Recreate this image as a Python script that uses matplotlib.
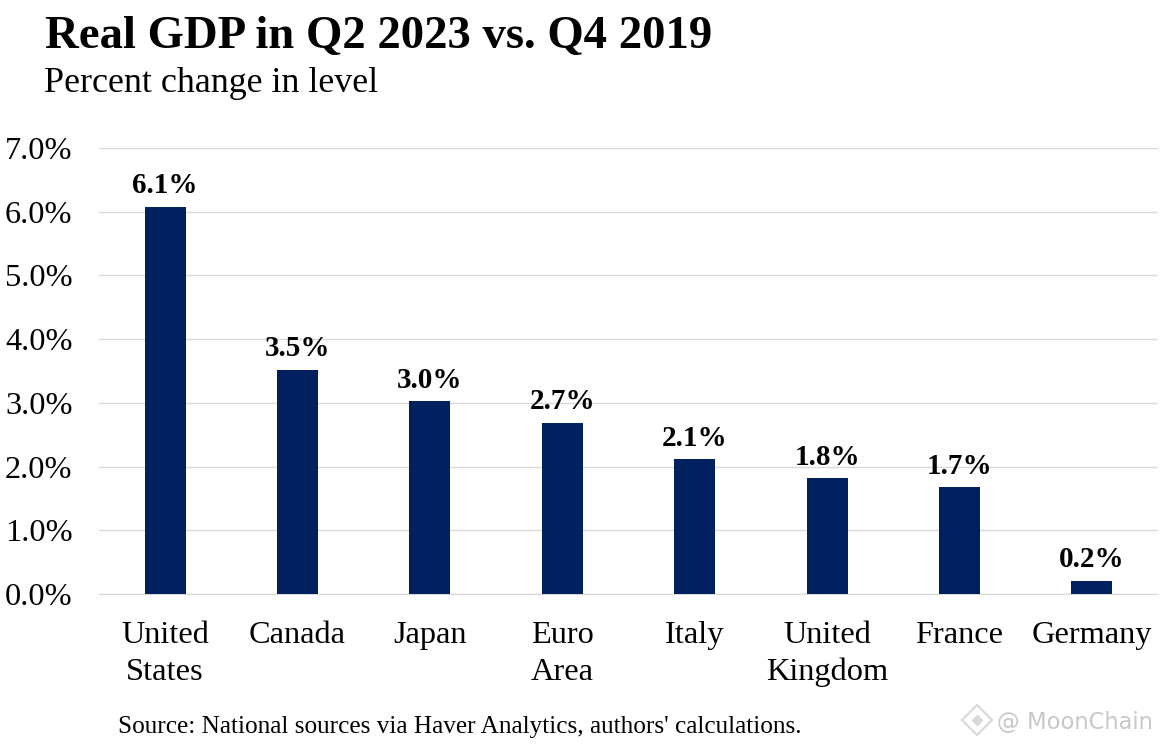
import matplotlib
matplotlib.use('Agg')
import matplotlib.pyplot as plt
from matplotlib.lines import Line2D

countries = ['United\nStates', 'Canada', 'Japan', 'Euro\nArea', 'Italy', 'United\nKingdom', 'France', 'Germany']
gdp_change = [6.08, 3.52, 3.03, 2.69, 2.12, 1.82, 1.68, 0.21]
bar_labels = ['6.1%', '3.5%', '3.0%', '2.7%', '2.1%', '1.8%', '1.7%', '0.2%']
y_ticks = [0, 1, 2, 3, 4, 5, 6, 7]

plt.rcParams['font.family'] = ['Liberation Serif', 'DejaVu Serif']

fig = plt.figure(figsize=(11.6, 7.46), dpi=100)
ax = fig.add_axes([99 / 1160, 1 - 594 / 746, (1158 - 99) / 1160, (594 - 148) / 746])

positions = range(len(countries))
ax.bar(positions, gdp_change, width=0.31, color='#002060', zorder=3)

for x, y, label in zip(positions, gdp_change, bar_labels):
    ax.text(x, y + 0.115, label, ha='center', va='bottom', fontsize=21, fontweight='bold', color='black')

ax.set_xlim(-0.5, 7.5)
ax.set_ylim(0, 7)
ax.set_yticks(y_ticks)
ax.set_yticklabels(['%.1f%%' % t for t in y_ticks], fontsize=23.3)
ax.set_xticks(list(positions))
ax.set_xticklabels(countries, fontsize=23.3, linespacing=1.34)
ax.tick_params(axis='both', length=0)
ax.tick_params(axis='x', pad=19.5)
ax.tick_params(axis='y', pad=19)
ax.grid(axis='y', color='#d9d9d9', linewidth=1, zorder=0)
for side in ['top', 'right', 'left']:
    ax.spines[side].set_visible(False)
ax.spines['bottom'].set_color('#d9d9d9')

fig.text(45 / 1160, 1 - 48 / 746, 'Real GDP in Q2 2023 vs. Q4 2019', fontsize=33.7, fontweight='bold', va='baseline')
fig.text(44 / 1160, 1 - 92 / 746, 'Percent change in level', fontsize=25.9, va='baseline')
fig.text(118 / 1160, 1 - 733 / 746, "Source: National sources via Haver Analytics, authors' calculations.", fontsize=18.15, va='baseline')

# watermark, small diamond logo and name
fig.text(1153 / 1160, 1 - 729 / 746, '@ MoonChain', fontsize=16.3, family='DejaVu Sans', color='#c8c8c8', ha='right', va='baseline')
fig.add_artist(Line2D([977 / 1160], [1 - 720 / 746], transform=fig.transFigure, marker='D', markersize=15,
                      markerfacecolor='none', markeredgecolor='#d8d8d8', markeredgewidth=1.5))
fig.add_artist(Line2D([977 / 1160], [1 - 720 / 746], transform=fig.transFigure, marker='D', markersize=5,
                      markerfacecolor='#d8d8d8', markeredgecolor='#d8d8d8'))

fig.savefig('out.png', dpi=100)
